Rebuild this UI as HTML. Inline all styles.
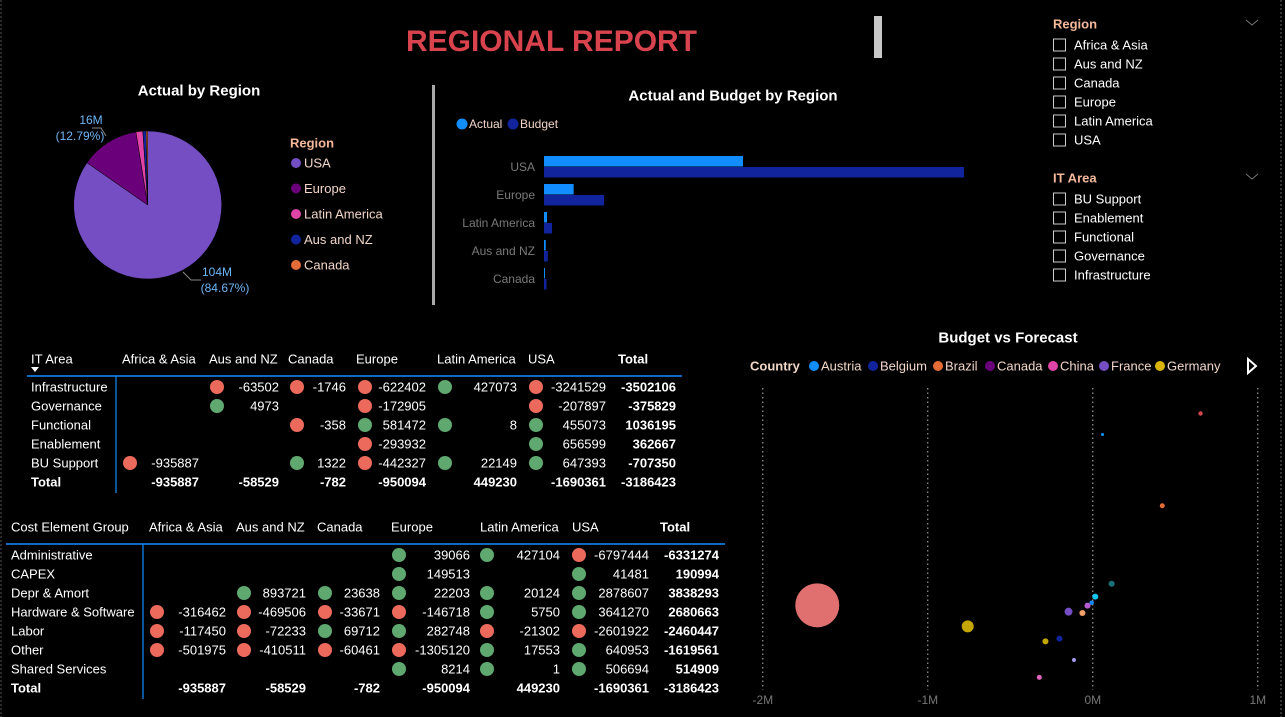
<!DOCTYPE html>
<html><head><meta charset="utf-8">
<style>
html,body{margin:0;padding:0;background:#000;}
svg{display:block;font-family:"Liberation Sans",sans-serif;}
</style></head>
<body>
<svg id="chart" width="1285" height="717" viewBox="0 0 1285 717">
<rect x="0" y="0" width="1285" height="717" fill="#000"/>
<line x1="1" y1="0" x2="1" y2="717" stroke="#555" stroke-dasharray="2,2"/>
<line x1="1281" y1="0" x2="1281" y2="717" stroke="#666" stroke-dasharray="2,2"/>
<text x="406" y="51" font-size="30" font-weight="bold" fill="#d9434e" textLength="291" lengthAdjust="spacingAndGlyphs">REGIONAL REPORT</text>
<rect x="874" y="16" width="8" height="42" fill="#c8c8c8"/>
<rect x="432" y="85" width="3" height="220" fill="#aaa"/>
</svg>
<script>
// ---------- data ----------
const pieRegions = ["USA","Europe","Latin America","Aus and NZ","Canada"];
const pieValues = [104, 15.7, 1.84, 0.86, 0.42];
const pieColors = ["#744ec2","#6b007b","#e044a7","#12239e","#e66c37"];

const barRegions = ["USA","Europe","Latin America","Aus and NZ","Canada"];
const barActual = [104, 15.5, 1.6, 0.9, 0.4];
const barBudget = [219.5, 31.4, 4.2, 2.0, 1.3];

const regionSlicer = ["Africa & Asia","Aus and NZ","Canada","Europe","Latin America","USA"];
const itSlicer = ["BU Support","Enablement","Functional","Governance","Infrastructure"];

const t1Cols = ["Africa & Asia","Aus and NZ","Canada","Europe","Latin America","USA"];
const t1Rows = ["Infrastructure","Governance","Functional","Enablement","BU Support"];
const t1Vals = [
 [null,-63502,-1746,-622402,427073,-3241529],
 [null,4973,null,-172905,null,-207897],
 [null,null,-358,581472,8,455073],
 [null,null,null,-293932,null,656599],
 [-935887,null,1322,-442327,22149,647393]];
const t1RowTotals = [-3502106,-375829,1036195,362667,-707350];
const t1ColTotals = [-935887,-58529,-782,-950094,449230,-1690361,-3186423];

const t2Rows = ["Administrative","CAPEX","Depr & Amort","Hardware & Software","Labor","Other","Shared Services"];
const t2Vals = [
 [null,null,null,39066,427104,-6797444],
 [null,null,null,149513,null,41481],
 [null,893721,23638,22203,20124,2878607],
 [-316462,-469506,-33671,-146718,5750,3641270],
 [-117450,-72233,69712,282748,-21302,-2601922],
 [-501975,-410511,-60461,-1305120,17553,640953],
 [null,null,null,8214,1,506694]];
const t2RowTotals = [-6331274,190994,3838293,2680663,-2460447,-1619561,514909];
const t2ColTotals = [-935887,-58529,-782,-950094,449230,-1690361,-3186423];

const scatterCountries = ["Austria","Belgium","Brazil","Canada","China","France","Germany"];
const legendColors = ["#118dff","#12239e","#e66c37","#6b007b","#e044a7","#744ec2","#d9b300"];
const scatterX = [0.653,0.059,0.421,0.114,0.015,-0.007,-0.032,-0.147,-0.063,-1.670,-0.758,-0.287,-0.202,-0.114,-0.324];
const scatterY = [1.23,1.09,0.615,0.095,0.009,-0.031,-0.051,-0.091,-0.100,-0.049,-0.189,-0.289,-0.271,-0.413,-0.529];
const scatterSize = [1,0.5,1.3,1.9,1.9,1,1.9,3.3,1.9,100,7.4,1.9,1.9,0.8,1.3];
const scatterColors = ["#d64550","#118dff","#e66c37","#197278","#15c6f4","#118dff","#b45bd0","#744ec2","#f2a06a","#e07070","#c4a600","#c4a600","#12239e","#a59bed","#e066c0"];
const xTicks = [-2,-1,0,1];
const xTickLabels = ["-2M","-1M","0M","1M"];

// ---------- helpers ----------
const svg = document.getElementById('chart');
const NS = 'http://www.w3.org/2000/svg';
function mk(tag, attrs){ const e=document.createElementNS(NS,tag); for(const k in attrs) e.setAttribute(k,attrs[k]); svg.appendChild(e); return e; }
function txt(x,y,s,size,fill,anchor,weight){ const e=mk('text',{x:x,y:y,'font-size':size,fill:fill,'text-anchor':anchor||'start','dominant-baseline':'central','font-weight':weight||'normal'}); e.textContent=s; return e; }

// ---------- pie ----------
let t = txt(199,91,"Actual by Region",15,"#fff","middle","bold");


const pcx=147.7, pcy=205, pr=74;
const pieTotal = pieValues.reduce((a,b)=>a+b,0);
let ang=-Math.PI/2;
pieValues.forEach((v,i)=>{
  const a2 = ang + v/pieTotal*2*Math.PI;
  const large = (a2-ang)>Math.PI?1:0;
  const d=`M${pcx},${pcy} L${pcx+pr*Math.cos(ang)},${pcy+pr*Math.sin(ang)} A${pr},${pr} 0 ${large} 1 ${pcx+pr*Math.cos(a2)},${pcy+pr*Math.sin(a2)} Z`;
  const p=mk('path',{d:d,fill:pieColors[i],stroke:'#000','stroke-width':0.5});
  
  
  ang=a2;
});
let ln = mk('polyline',{points:"92,128 101,128 106,136",fill:"none",stroke:"#888"});


ln = mk('polyline',{points:"183,272 191,280 201,280",fill:"none",stroke:"#888"});


t=txt(91,120,"16M",12,"#6fb6f7","middle");  
t=txt(80,136,"(12.79%)",12,"#6fb6f7","middle");  
t=txt(217,272,"104M",12,"#6fb6f7","middle");  
t=txt(225,288,"(84.67%)",12,"#6fb6f7","middle");  
t=txt(290,143,"Region",13,"#f4b89a","start","bold");  
pieRegions.forEach((r,i)=>{
  const y=163+i*25.5;
  const c=mk('circle',{cx:296,cy:y,r:5,fill:pieColors[i]});
  
  
  const tt=txt(304,y,r,13,"#f2d6c8");
  
  
});

// ---------- bar chart ----------
t=txt(733,96,"Actual and Budget by Region",15,"#fff","middle","bold");  
let c=mk('circle',{cx:462,cy:124,r:5.5,fill:"#118dff"});  
t=txt(469,124,"Actual",12,"#f2d6c8");  
c=mk('circle',{cx:513,cy:124,r:5.5,fill:"#12239e"});  
t=txt(520,124,"Budget",12,"#f2d6c8");  
const bx0=544, bpx=420/219.5;
function bxScale(v){return bx0+v*bpx;}
barRegions.forEach((r,i)=>{
  const cy=167+i*28;
  const lab=txt(535,cy,r,12,"#7a7a7a","end");
  
  
  const a=mk('rect',{x:bx0,y:cy-11,width:Math.max(1,bxScale(barActual[i])-bx0),height:10.5,fill:"#118dff"});
  
  
  const b=mk('rect',{x:bx0,y:cy,width:Math.max(1,bxScale(barBudget[i])-bx0),height:10.5,fill:"#12239e"});
  
  
});

// ---------- slicers ----------
function slicer(title, items, ty, key){
  const h=txt(1053,ty,title,13,"#f4b89a","start","bold");
  
  
  const ch=mk('polyline',{points:`1246,${ty-4} 1252,${ty+1} 1258,${ty-4}`,fill:"none",stroke:"#777"});
  
  
  items.forEach((s,i)=>{
    const y=ty+21+i*19;
    const b=mk('rect',{x:1053.5,y:y-6,width:12,height:12,fill:"none",stroke:"#ccc"});
    
    
    const l=txt(1074,y,s,13,"#fff");
    
    
  });
}
slicer("Region",regionSlicer,24,'region');
slicer("IT Area",itSlicer,178,'it-area');

// ---------- tables ----------
function fmt(v){return String(v);}
function table(cfg){
  cfg.headers.forEach((h,i)=>{
    const e=txt(cfg.hx[i],cfg.hy,h,13,"#fff","start",i===cfg.headers.length-1?'bold':'normal');
    
    
  });
  const hl=mk('line',{x1:cfg.lx0,y1:cfg.ly,x2:cfg.lx1,y2:cfg.ly,stroke:"#118dff","stroke-width":1.5});
  
  
  const vl=mk('line',{x1:cfg.vx,y1:cfg.ly,x2:cfg.vx,y2:cfg.ly+19*(cfg.rows.length+1)+3,stroke:"#118dff","stroke-width":1.2});
  
  
  cfg.rows.forEach((r,ri)=>{
    const y=cfg.ry+ri*19;
    const rl=txt(cfg.hx[0],y,r,13,"#fff");
    
    
    cfg.vals[ri].forEach((v,ci)=>{
      if(v===null) return;
      const d=mk('circle',{cx:cfg.dx[ci],cy:y,r:7,fill:v>0?"#5fa870":"#ec6a5c"});
      
      
      const tv=txt(cfg.rx[ci],y,fmt(v),13,"#fff","end");
      
      
    });
    const tt=txt(cfg.rx[6],y,fmt(cfg.rowTotals[ri]),13,"#fff","end","bold");
    
    
  });
  const ty=cfg.ry+cfg.rows.length*19;
  const tl=txt(cfg.hx[0],ty,"Total",13,"#fff","start","bold");
  
  
  cfg.colTotals.forEach((v,ci)=>{
    const e=txt(cfg.rx[ci],ty,fmt(v),13,"#fff","end","bold");
    
    
  });
}
table({key:'it-area-table',headers:["IT Area"].concat(t1Cols,["Total"]),hx:[31,122,209,288,356,437,528,618],hy:359,
  lx0:27,lx1:682,ly:376,vx:116,rows:t1Rows,vals:t1Vals,ry:387,
  dx:[130,217,297,365,445,536],rx:[199,279,346,426,517,606,676],rowTotals:t1RowTotals,colTotals:t1ColTotals});
const sa=mk('polygon',{points:"31,367 39,367 35,372",fill:"#fff"});


table({key:'cost-element-table',headers:["Cost Element Group"].concat(t1Cols,["Total"]),hx:[11,149,236,317,391,480,572,660],hy:527,
  lx0:6,lx1:725,ly:544,vx:143,rows:t2Rows,vals:t2Vals,ry:555,
  dx:[157,244,325,399,487,579],rx:[226,306,380,470,560,649,719],rowTotals:t2RowTotals,colTotals:t2ColTotals});

// ---------- scatter ----------
t=txt(1008,338,"Budget vs Forecast",15,"#fff","middle","bold");  
t=txt(750,366,"Country",13,"#f2d6c8","start","bold");  
const legX=[814,873,938,990,1053,1104,1160];
scatterCountries.forEach((s,i)=>{
  const m=mk('circle',{cx:legX[i],cy:366,r:5,fill:legendColors[i]});
  
  
  const e=txt(legX[i]+7,366,s,13,"#f2d6c8");
  
  
});
const arr=mk('polygon',{points:"1248,359 1256,366 1248,373",fill:"none",stroke:"#fff","stroke-width":2});


function sx(v){return 1092.8+v*165;}
function sy(v){return 688-(v+0.6)*150;}
xTicks.forEach((v,i)=>{
  const g=mk('line',{x1:sx(v),y1:388,x2:sx(v),y2:690,stroke:"#bbb","stroke-dasharray":"1.5,3"});
  
  
  const l=txt(sx(v),700,xTickLabels[i],12,"#777","middle");
  
  
});
scatterX.forEach((v,i)=>{
  const p=mk('circle',{cx:sx(v),cy:sy(scatterY[i]),r:2.2*Math.sqrt(scatterSize[i]),fill:scatterColors[i]});
  
  
});
</script>
</body></html>
